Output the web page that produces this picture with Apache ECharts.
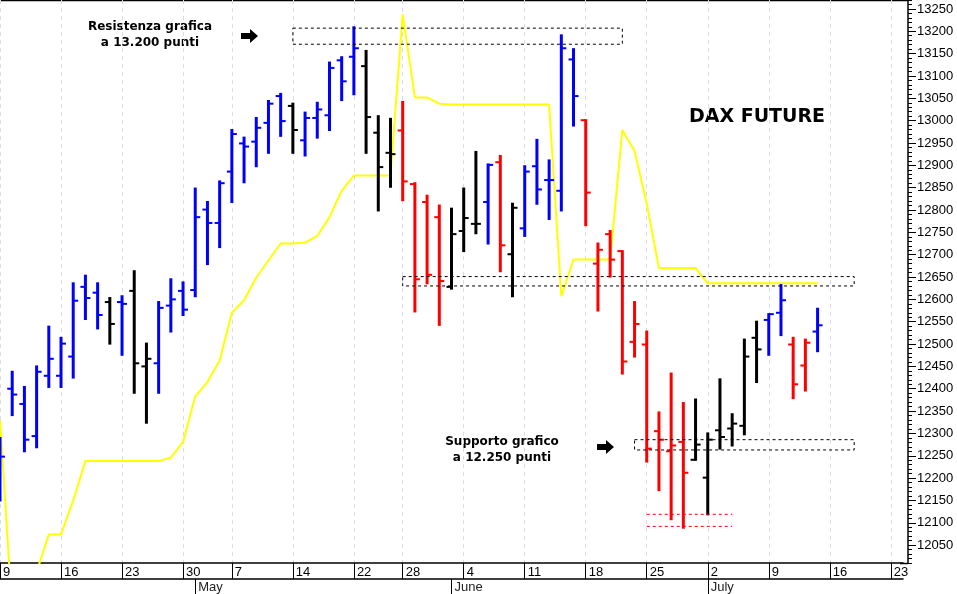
<!DOCTYPE html>
<html>
<head>
<meta charset="utf-8">
<script src="https://cdn.jsdelivr.net/npm/echarts@6/dist/echarts.min.js"></script>
<style>
  html,body{margin:0;padding:0;background:#fff;}
  #chart{width:957px;height:594px;}
</style>
</head>
<body>
<div id="chart"></div>
<script>
"use strict";

// trading days (May 1 and May 21 closed)
var days=[
  'Apr 9','Apr 10','Apr 11','Apr 12','Apr 13','Apr 16','Apr 17','Apr 18','Apr 19','Apr 20',
  'Apr 23','Apr 24','Apr 25','Apr 26','Apr 27','Apr 30',
  'May 2','May 3','May 4','May 7','May 8','May 9','May 10','May 11','May 14','May 15','May 16',
  'May 17','May 18','May 22','May 23','May 24','May 25','May 28','May 29','May 30','May 31',
  'Jun 1','Jun 4','Jun 5','Jun 6','Jun 7','Jun 8','Jun 11','Jun 12','Jun 13','Jun 14','Jun 15',
  'Jun 18','Jun 19','Jun 20','Jun 21','Jun 22','Jun 25','Jun 26','Jun 27','Jun 28','Jun 29',
  'Jul 2','Jul 3','Jul 4','Jul 5','Jul 6','Jul 9','Jul 10','Jul 11','Jul 12','Jul 13',
  'Jul 16','Jul 17','Jul 18','Jul 19','Jul 20','Jul 23','Jul 24'
];
var weekStarts=[0,5,10,15,19,24,29,33,38,43,48,53,58,63,68,73];
var monthStarts=[16,37,58];
var monthNames=['May','June','July'];

// OHLC bars: [open, high, low, close]
var ohlc=[
  [12200,12290,12150,12248],[12400,12438,12341,12387],[12366,12404,12260,12286],
  [12294,12450,12269,12438],[12429,12539,12404,12467],[12429,12514,12404,12501],
  [12472,12636,12425,12597],[12628,12653,12556,12603],[12615,12636,12535,12565],
  [12594,12603,12501,12545],[12594,12607,12476,12590],[12619,12663,12391,12457],
  [12450,12501,12324,12467],[12457,12594,12391,12581],[12586,12645,12528,12600],
  [12619,12638,12565,12577],[12621,12848,12607,12784],[12801,12818,12679,12771],
  [12771,12864,12717,12860],[12886,12979,12818,12970],[12949,12962,12862,12942],
  [12953,13006,12898,12984],[12995,13044,12928,13038],[13055,13060,12966,12999],
  [13033,13038,12928,12979],[12956,13018,12922,13006],[13006,13040,12962,13025],
  [13012,13130,12979,13118],[13135,13142,13046,13088],[13143,13209,13059,13162],
  [13122,13156,12928,13008],[12973,13010,12799,12896],[12928,13004,12852,12925],
  [12978,13042,12822,12864],[12858,12860,12573,12645],[12818,12832,12636,12655],
  [12784,12810,12543,12641],[12628,12803,12624,12746],[12753,12848,12708,12782],
  [12769,12930,12748,12769],[12818,12902,12725,12901],[12907,12921,12663,12721],
  [12701,12814,12607,12805],[12759,12898,12742,12886],[12898,12957,12814,12846],
  [12867,12911,12780,12867],[12843,13191,12799,13162],[13137,13160,12989,13055],
  [13001,13001,12766,12839],[12680,12725,12575,12711],[12746,12753,12651,12689],
  [12708,12708,12434,12461],[12505,12594,12472,12545],[12499,12528,12237,12266],
  [12305,12347,12173,12286],[12260,12434,12108,12273],[12281,12368,12089,12212],
  [12241,12376,12241,12275],[12201,12300,12119,12286],[12307,12421,12266,12292],
  [12311,12343,12273,12322],[12317,12510,12298,12472],[12514,12550,12415,12488],
  [12554,12567,12476,12567],[12570,12632,12520,12598],[12499,12514,12379,12410],
  [12452,12510,12396,12503],[12528,12579,12484,12542]
];
// b = blue, k = black, r = red (one letter per bar)
var barTone=('bbbbbbbbb'+'k'+'b'+'kk'+'bbbbbbbbbbb'+'k'+'bbbbb'+'kkk'+'rrrr'+'kkk'+'b'+'r'+'k'+
  'bbbbb'+'rrrrrrrrr'+'kkkkkk'+'bb'+'rr'+'b').split('');
var toneColor={b:'#0000ff',k:'#000000',r:'#ff0000'};

// yellow line
var yellowLine=[
  12330,11900,11900,11990,12074,12074,12150,12238,12238,12238,12238,12238,12238,12238,
  12246,12281,12383,12415,12463,12570,12598,12649,12687,12725,12725,12727,12742,12784,
  12843,12877,12877,12877,12877,13238,13052,13052,13038,13036,13036,13036,13036,13036,
  13036,13036,13036,13036,12607,12689,12689,12689,12689,12979,12932,12814,12670,12670,
  12670,12670,12636,12636,12636,12636,12636,12636,12636,12636,12636,12636
];

// dashed boxes: [fromIndex, toIndex, low, high]
var boxes=[[24,51,13171,13207],[32.9,70,12630,12651],[52,70,12263,12286]];
// red dashed lines: [fromIndex, toIndex, price]
var redLines=[[52.9,60,12119],[52.9,60,12092]];

var yLabels=[];
for (var v=12050;v<=13250;v+=50) yLabels.push(v);

var chart=echarts.init(document.getElementById('chart'));
var font='Liberation Sans';

function isWeek(i){return weekStarts.indexOf(i)>=0;}
function isMonth(i){return monthStarts.indexOf(i)>=0;}

chart.setOption({
  animation:false,
  grid:{left:-5.3,right:54,top:0,bottom:31},
  xAxis:[{
    type:'category',data:days,boundaryGap:false,position:'bottom',
    axisLine:{lineStyle:{color:'#000',width:1.5}},
    axisTick:{interval:function(i){return isWeek(i);},length:16,lineStyle:{color:'#000'}},
    axisLabel:{interval:function(i){return isWeek(i);},align:'left',margin:3,padding:[0,0,0,3],
      color:'#000',fontFamily:font,fontSize:13,
      formatter:function(val){return val.split(' ')[1];}},
    splitLine:{show:true,interval:function(i){return isWeek(i);},
      lineStyle:{color:'#d8dce8',type:[4,4]}}
  },{
    type:'category',data:days,boundaryGap:false,position:'bottom',offset:16,
    axisLine:{lineStyle:{color:'#000',width:1.5}},
    axisTick:{interval:function(i){return isMonth(i);},length:15,lineStyle:{color:'#000'}},
    axisLabel:{interval:function(i){return isMonth(i);},align:'left',margin:2,padding:[0,0,0,3],
      color:'#222',fontFamily:font,fontSize:13,
      formatter:function(val,i){var k=monthStarts.indexOf(i);return k>=0?monthNames[k]:'';}},
    splitLine:{show:false}
  }],
  yAxis:[{
    type:'value',position:'right',offset:5,min:12010,max:13270,interval:10,
    axisLine:{show:true,lineStyle:{color:'#000',width:1.5}},
    axisTick:{show:true,length:4,lineStyle:{color:'#000'}},
    axisLabel:{customValues:yLabels,margin:9,color:'#000',fontFamily:font,fontSize:13,
      formatter:function(v){return String(v);}},
    splitLine:{show:false}
  },{
    type:'value',position:'right',offset:5,min:12010,max:13270,
    axisLine:{show:false},
    axisTick:{show:true,customValues:yLabels,length:8,lineStyle:{color:'#000'}},
    axisLabel:{show:false},splitLine:{show:false}
  }],
  series:[{
    type:'line',data:yellowLine,showSymbol:false,clip:true,
    lineStyle:{color:'#ffff00',width:2},z:2
  },{
    type:'custom',z:3,
    data:ohlc.map(function(d,i){return [i,d[0],d[1],d[2],d[3]];}),
    renderItem:function(params,api){
      var i=api.value(0);
      var o=api.coord([i,api.value(1)]),h=api.coord([i,api.value(2)]);
      var l=api.coord([i,api.value(3)]),c=api.coord([i,api.value(4)]);
      var col=toneColor[barTone[params.dataIndex]];
      return {type:'group',children:[
        {type:'line',shape:{x1:h[0],y1:h[1]-1,x2:l[0],y2:l[1]+1},style:{stroke:col,lineWidth:3}},
        {type:'line',shape:{x1:o[0]-5,y1:o[1],x2:o[0],y2:o[1]},style:{stroke:col,lineWidth:2}},
        {type:'line',shape:{x1:c[0],y1:c[1],x2:c[0]+5,y2:c[1]},style:{stroke:col,lineWidth:2}}
      ]};
    },
    encode:{x:0,y:[1,2,3,4]}
  },{
    type:'custom',z:4,data:boxes,
    renderItem:function(params,api){
      var a=api.coord([api.value(0),api.value(3)]),b=api.coord([api.value(1),api.value(2)]);
      return {type:'rect',shape:{x:a[0],y:a[1],width:b[0]-a[0],height:b[1]-a[1]},
        style:{fill:null,stroke:'#000',lineWidth:1,lineDash:[3,3]}};
    },
    encode:{x:[0,1],y:[2,3]}
  },{
    type:'custom',z:4,data:redLines,
    renderItem:function(params,api){
      var a=api.coord([api.value(0),api.value(2)]),b=api.coord([api.value(1),api.value(2)]);
      return {type:'line',shape:{x1:a[0],y1:a[1],x2:b[0],y2:b[1]},
        style:{stroke:'#ff0000',lineWidth:1,lineDash:[3,3]}};
    },
    encode:{x:[0,1],y:2}
  }],
  graphic:[
    {type:'line',shape:{x1:0,y1:0.5,x2:908,y2:0.5},style:{stroke:'#000',lineWidth:1.5}},
    {type:'line',shape:{x1:900,y1:563.5,x2:908,y2:563.5},style:{stroke:'#000',lineWidth:1.5}},
    {type:'text',style:{text:'Resistenza grafica\na 13.200 punti',x:150,y:19,
      textAlign:'center',textVerticalAlign:'top',font:'bold 12px "DejaVu Sans"',fill:'#000',lineHeight:16}},
    {type:'polygon',shape:{points:[[241,33],[250,33],[250,29],[258,36],[250,43],[250,39],[241,39]]},
      style:{fill:'#000'}},
    {type:'text',style:{text:'Supporto grafico\na 12.250 punti',x:502,y:434,
      textAlign:'center',textVerticalAlign:'top',font:'bold 12px "DejaVu Sans"',fill:'#000',lineHeight:16}},
    {type:'polygon',shape:{points:[[597,444],[606,444],[606,440],[614,447],[606,454],[606,450],[597,450]]},
      style:{fill:'#000'}},
    {type:'text',style:{text:'DAX FUTURE',x:757,y:117,textAlign:'center',textVerticalAlign:'middle',
      font:'bold 19px "DejaVu Sans"',fill:'#000'}}
  ]
});
</script>
</body>
</html>
